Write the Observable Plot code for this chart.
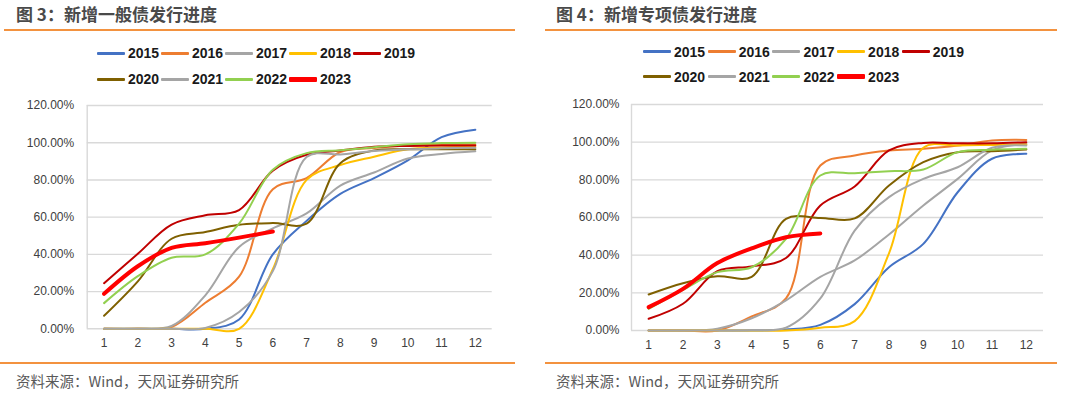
<!DOCTYPE html>
<html>
<head>
<meta charset="utf-8">
<script src="https://cdn.jsdelivr.net/npm/d3@7"></script>
<script src="https://cdn.jsdelivr.net/npm/@observablehq/plot@0.6"></script>
<style>
  html, body { margin: 0; padding: 0; background: #fff; }
  #page { position: relative; width: 1080px; height: 395px; overflow: hidden; background: #fff; }
  .title { position: absolute; top: 3px; font-family: "Noto Sans CJK SC", "Noto Sans", sans-serif; font-weight: 700; font-size: 17px; line-height: 22px; color: #4a4a4a; white-space: nowrap; }
  .rule { position: absolute; height: 2px; background: #F3923F; }
  .source { position: absolute; top: 371px; font-family: "Noto Sans CJK SC", "Noto Sans", sans-serif; font-size: 14.5px; line-height: 20px; color: #595959; white-space: nowrap; }
  .leg { position: absolute; display: flex; align-items: center; height: 20px; font-family: "Liberation Sans", Arial, sans-serif; font-weight: 700; font-size: 14px; color: #1a1a1a; }
  .leg .sw { width: 28px; margin-right: 3px; border-radius: 1px; }
  .plot { position: absolute; }
</style>
</head>
<body>
<div id="page"></div>
<script>
// ---- data ----
const months = [1,2,3,4,5,6,7,8,9,10,11,12];
const years = ["2015","2016","2017","2018","2019","2020","2021","2022","2023"];
const colors = ["#4472C4","#ED7D31","#A5A5A5","#FFC000","#C00000","#7F6000","#A5A5A5","#92D050","#FF0000"];
const yTicks = [0,20,40,60,80,100,120];

// 图3 新增一般债发行进度 (%)
const g2015 = [0,0,0,0,5,40,58,72.5,81,90.5,103,107];
const g2016 = [0,0,1,14,28,75,81,95,97.2,98.5,99,99];
const g2017 = [0,0,1.5,18,44,54,62,77,84,91.5,94,95.4];
const g2018 = [0,0,0,0,0,32,80,88,92.5,96.5,97.4,97.8];
const g2019 = [24.5,40.3,56,61,63.8,85,93.5,95.8,97.8,98.3,98.5,98.5];
const g2020 = [7,25.5,48.4,52,55.9,56.8,56.5,89,95.8,96.5,96.5,96.5];
const g2021 = [0,0,0,0.5,9,31,92.3,93.7,95.5,96.5,97,97.3];
const g2022 = [13.8,28.3,38.2,40,56.5,85.5,94.4,95.9,97.6,99.2,99.8,100];
const g2023 = [18.8,33.6,43.5,46,49,52.3];

// 图4 新增专项债发行进度 (%)
const s2015 = [0,0,0,0,0.5,3,14,33.6,46,73.4,91.2,93.8];
const s2016 = [0,0,0,7.5,17,87.6,92.9,95.6,96.5,98.2,100.9,101.2];
const s2017 = [0,0,1,6.5,16,28.5,37.2,51,66.4,80.5,95.6,99.1];
const s2018 = [0,0,0,0,0,1.5,5,41,97,98.2,98.5,98.8];
const s2019 = [6.2,14.2,31.5,34,38.5,66.4,76.5,95.6,99.6,99.4,99.4,100];
const s2020 = [19.1,25.1,28.8,28.5,59.3,59.8,59.5,77,89.4,94.7,95.2,96.1];
const s2021 = [0,0,0,0.3,1.5,17,53,70.8,80.5,86.7,97,98.2];
const s2022 = [11.5,21.6,31,33.6,48.7,82.3,83.5,84.6,85.5,94.7,96,96.5];
const s2023 = [12.4,22.1,35.8,43.6,49.5,51.5];

const generalSeries = [g2015,g2016,g2017,g2018,g2019,g2020,g2021,g2022,g2023];
const specialSeries = [s2015,s2016,s2017,s2018,s2019,s2020,s2021,s2022,s2023];

// ---- layout helpers ----
const page = document.getElementById("page");
function el(cls, css, text) {
  const d = document.createElement("div");
  d.className = cls;
  Object.assign(d.style, css);
  if (text != null) d.textContent = text;
  page.appendChild(d);
  return d;
}

function rows(series) {
  const out = [];
  years.forEach((yr, i) => series[i].forEach((v, j) => out.push({year: yr, month: months[j], value: v})));
  return out;
}

function chart(series, cfg) {
  const data = rows(series);
  return Plot.plot({
    width: cfg.width,
    height: cfg.height,
    marginLeft: cfg.ml,
    marginRight: cfg.mr,
    marginTop: cfg.mt,
    marginBottom: cfg.mb,
    style: {fontFamily: "'Liberation Sans', Arial, sans-serif", fontSize: "12px", color: "#404040", background: "transparent"},
    x: {domain: [0.5, 12.5], ticks: months, tickSize: 0, tickPadding: 10, label: null, tickFormat: d => String(d)},
    y: {domain: [0, 120], ticks: yTicks, tickSize: 0, tickPadding: cfg.ytp, label: null, tickFormat: d => d.toFixed(2) + "%"},
    color: {domain: years, range: colors},
    marks: [
      Plot.gridY(yTicks, {stroke: "#D9D9D9", strokeOpacity: 1, strokeWidth: 1.4}),
      Plot.ruleX([0.5], {stroke: "#D9D9D9", strokeWidth: 1.4}),
      Plot.lineY(data.filter(d => d.year !== "2023"), {x: "month", y: "value", z: "year", stroke: "year", strokeWidth: 2, curve: "catmull-rom"}),
      Plot.lineY(data.filter(d => d.year === "2023"), {x: "month", y: "value", z: "year", stroke: "year", strokeWidth: 4, curve: "catmull-rom"})
    ]
  });
}

function legend(x0, step, y0, y1) {
  years.forEach((yr, i) => {
    const item = el("leg", {left: (x0 + (i % 5) * step) + "px", top: ((i < 5 ? y0 : y1) - 10) + "px"});
    const sw = document.createElement("span");
    sw.className = "sw";
    sw.style.background = colors[i];
    sw.style.height = (yr === "2023" ? 5 : 3) + "px";
    item.appendChild(sw);
    const t = document.createElement("span");
    t.textContent = yr;
    item.appendChild(t);
  });
}

// ---- left panel ----
el("title", {left: "16px"}, "图 3：新增一般债发行进度");
el("rule", {left: "4px", width: "511px", top: "28.5px"});
legend(97, 64, 53, 79);
const p1 = el("plot", {left: "0px", top: "90px"});
p1.appendChild(chart(generalSeries, {width: 515, height: 262, ml: 86.7, mr: 23.3, mt: 15, mb: 23.7, ytp: 13}));
el("rule", {left: "0px", width: "515px", top: "362px"});
el("source", {left: "16px"}, "资料来源：Wind，天风证券研究所");

// ---- right panel ----
el("title", {left: "556px"}, "图 4：新增专项债发行进度");
el("rule", {left: "545px", width: "512px", top: "28.5px"});
legend(643, 64.7, 51.5, 76.5);
const p2 = el("plot", {left: "540px", top: "90px"});
p2.appendChild(chart(specialSeries, {width: 540, height: 262, ml: 91, mr: 37, mt: 14, mb: 22, ytp: 12}));
el("rule", {left: "545px", width: "512px", top: "362px"});
el("source", {left: "556px"}, "资料来源：Wind，天风证券研究所");
</script>
</body>
</html>
